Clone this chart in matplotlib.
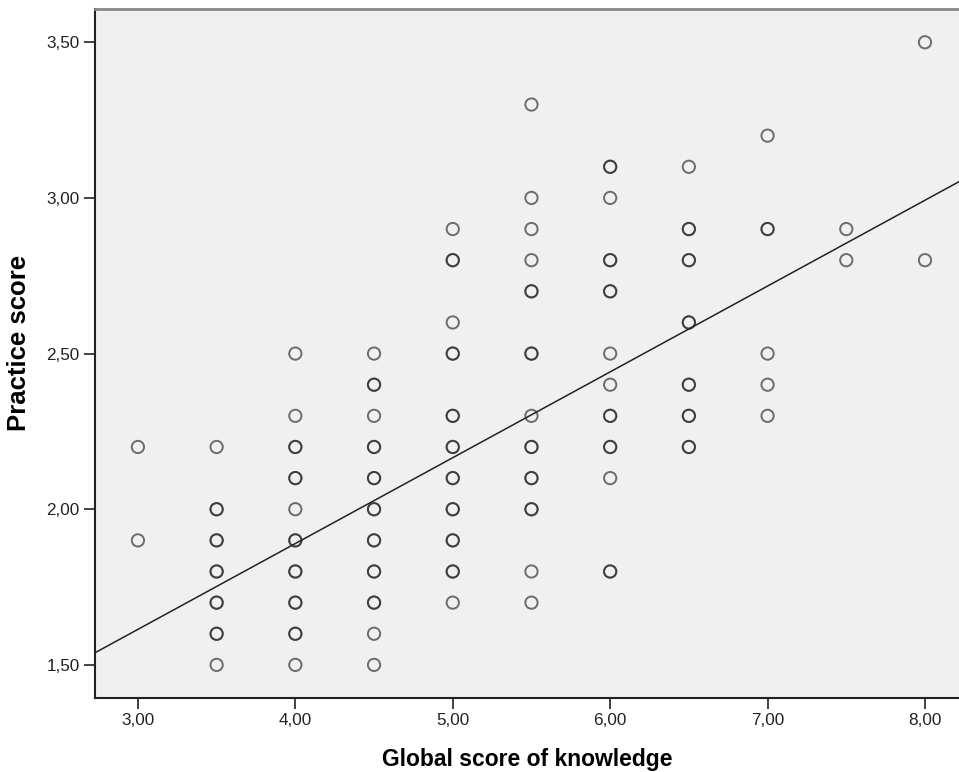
import numpy as np
import matplotlib
matplotlib.use('Agg')
from matplotlib import pyplot as plt
from matplotlib.ticker import FuncFormatter

plt.rcParams['font.family'] = ['Liberation Sans', 'DejaVu Sans']

# knowledge score columns and the practice scores seen in each (repeated = overlapping points)
knowledge = [3.0, 3.5, 4.0, 4.5, 5.0, 5.5, 6.0, 6.5, 7.0, 7.5, 8.0]
practice = [
    [2.2, 1.9],
    [2.2, 2.0, 2.0, 1.9, 1.9, 1.8, 1.8, 1.7, 1.7, 1.6, 1.6, 1.5],
    [2.5, 2.3, 2.2, 2.2, 2.1, 2.1, 2.0, 1.9, 1.9, 1.8, 1.8, 1.7, 1.7, 1.6, 1.6, 1.5],
    [2.5, 2.4, 2.4, 2.3, 2.2, 2.2, 2.1, 2.1, 2.0, 2.0, 1.9, 1.9, 1.8, 1.8, 1.7, 1.7, 1.6, 1.5],
    [2.9, 2.8, 2.8, 2.6, 2.5, 2.5, 2.3, 2.3, 2.2, 2.2, 2.1, 2.1, 2.0, 2.0, 1.9, 1.9, 1.8, 1.8, 1.7],
    [3.3, 3.0, 2.9, 2.8, 2.7, 2.7, 2.5, 2.5, 2.3, 2.2, 2.2, 2.1, 2.1, 2.0, 2.0, 1.8, 1.7],
    [3.1, 3.1, 3.0, 2.8, 2.8, 2.7, 2.7, 2.5, 2.4, 2.3, 2.3, 2.2, 2.2, 2.1, 1.8, 1.8],
    [3.1, 2.9, 2.9, 2.8, 2.8, 2.6, 2.6, 2.4, 2.4, 2.3, 2.3, 2.2, 2.2],
    [3.2, 2.9, 2.9, 2.5, 2.4, 2.3],
    [2.9, 2.8],
    [3.5, 2.8],
]

# fit line
fit_intercept = 0.787
fit_slope = 0.2757

xs = []
ys = []
for k, vals in zip(knowledge, practice):
    for v in vals:
        xs.append(k)
        ys.append(v)

fig = plt.figure(figsize=(9.59, 7.72), dpi=100)
ax = fig.add_axes([0.099, 0.096, 0.901, 0.892])
ax.set_facecolor('#f0f0f0')

ax.scatter(xs, ys, s=78, facecolors='none', edgecolors=(0.15, 0.15, 0.15, 0.65),
           linewidths=1.4, zorder=3)

xlim = (2.727, 8.216)
xl = np.array(xlim)
ax.plot(xl, fit_intercept + fit_slope * xl, color='#222222', lw=1.1, zorder=2)

ax.set_xlim(xlim)
ax.set_ylim(1.394, 3.606)
ax.set_xticks([3, 4, 5, 6, 7, 8])
ax.set_yticks([1.5, 2.0, 2.5, 3.0, 3.5])
fmt = FuncFormatter(lambda v, p: ('%.2f' % v).replace('.', ','))
ax.xaxis.set_major_formatter(fmt)
ax.yaxis.set_major_formatter(fmt)
ax.tick_params(direction='out', length=8, width=1.2, labelsize=12.3, colors='#222222', pad=3)

for side in ['left', 'bottom']:
    ax.spines[side].set_color('#222222')
    ax.spines[side].set_linewidth(1.5)
ax.spines['top'].set_color('#888888')
ax.spines['top'].set_linewidth(2)
ax.spines['right'].set_visible(False)

ax.set_xlabel('Global score of knowledge', fontsize=16.5, fontweight='bold', labelpad=14)
ax.set_ylabel('Practice score', fontsize=18.5, fontweight='bold')
ax.yaxis.set_label_coords(-0.074, 0.515)

fig.savefig('out.png', dpi=100)
